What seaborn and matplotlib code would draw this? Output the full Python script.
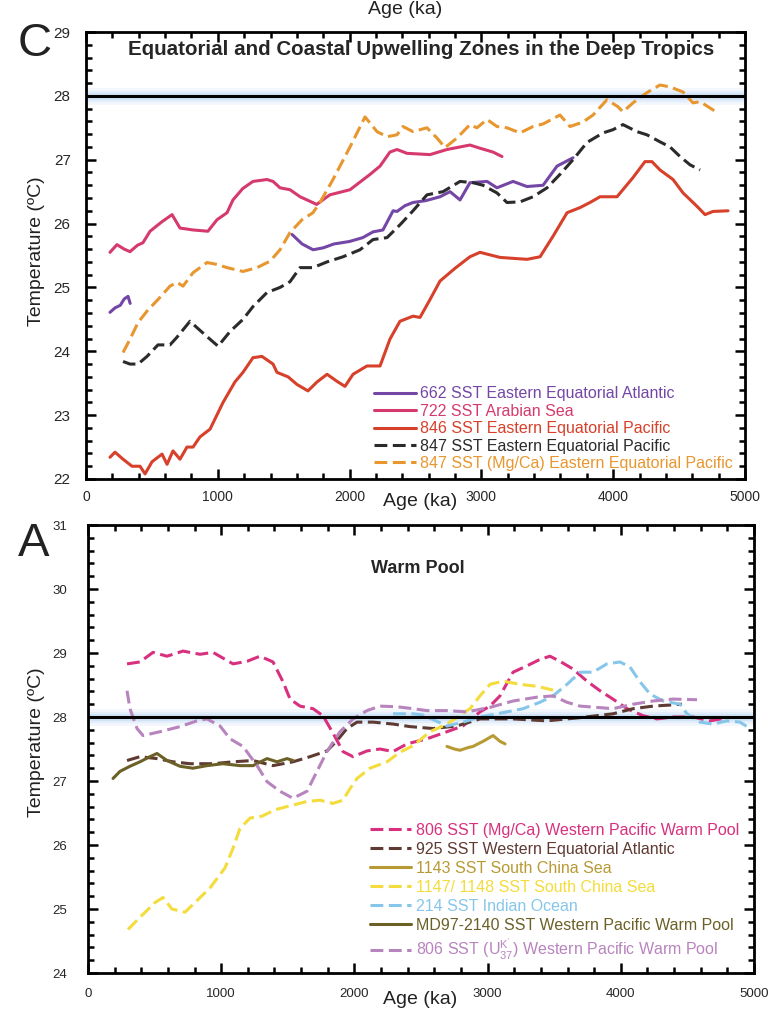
import matplotlib
matplotlib.use('Agg')
import matplotlib.pyplot as plt
from matplotlib.ticker import MultipleLocator
import seaborn as sns
import pandas as pd

# ---- Panel C: equatorial / coastal upwelling zones (age ka, SST degC)
age_662a = [182, 220, 260, 290, 319, 335]
sst_662a = [24.61, 24.68, 24.72, 24.82, 24.86, 24.75]
age_662b = [1563, 1640, 1723, 1800, 1880, 2000, 2100, 2178, 2253, 2330, 2360, 2420, 2481,
            2580, 2686, 2762, 2838, 2913, 3043, 3118, 3240, 3346, 3468, 3574, 3695]
sst_662b = [25.83, 25.68, 25.59, 25.62, 25.68, 25.72, 25.78, 25.87, 25.9, 26.2, 26.19, 26.28, 26.33,
            26.36, 26.42, 26.5, 26.37, 26.64, 26.66, 26.56, 26.66, 26.58, 26.6, 26.9, 27.03]

age_722 = [182, 235, 290, 334, 390, 432, 486, 577, 653, 713, 812, 925, 994, 1070, 1115, 1190,
           1267, 1373, 1419, 1472, 1548, 1624, 1677, 1750, 1850, 2003, 2155, 2231, 2306, 2360,
           2435, 2610, 2739, 2913, 2989, 3088, 3156]
sst_722 = [25.55, 25.67, 25.6, 25.56, 25.66, 25.7, 25.88, 26.03, 26.14, 25.93, 25.9, 25.88, 26.06,
           26.17, 26.37, 26.55, 26.66, 26.69, 26.66, 26.56, 26.53, 26.42, 26.37, 26.3, 26.45,
           26.53, 26.77, 26.9, 27.12, 27.16, 27.1, 27.08, 27.16, 27.23, 27.18, 27.12, 27.05]

age_846 = [182, 220, 281, 349, 410, 448, 501, 577, 615, 660, 713, 766, 812, 865, 941, 1040,
           1130, 1191, 1267, 1335, 1419, 1449, 1533, 1601, 1684, 1753, 1829, 1904, 1965, 2026,
           2132, 2231, 2306, 2382, 2481, 2534, 2610, 2686, 2800, 2913, 2989, 3141, 3346, 3445,
           3543, 3650, 3748, 3824, 3900, 4029, 4150, 4241, 4294, 4355, 4454, 4530, 4636, 4697,
           4757, 4871]
sst_846 = [22.34, 22.42, 22.31, 22.2, 22.2, 22.08, 22.27, 22.39, 22.23, 22.44, 22.31, 22.5, 22.5,
           22.66, 22.78, 23.2, 23.52, 23.67, 23.9, 23.92, 23.8, 23.67, 23.6, 23.48, 23.38, 23.52,
           23.64, 23.53, 23.45, 23.64, 23.77, 23.77, 24.19, 24.47, 24.55, 24.53, 24.81, 25.1,
           25.3, 25.48, 25.55, 25.47, 25.44, 25.48, 25.8, 26.17, 26.25, 26.33, 26.42, 26.42,
           26.72, 26.97, 26.97, 26.84, 26.69, 26.48, 26.27, 26.14, 26.19, 26.2]

age_847 = [281, 334, 395, 463, 546, 637, 690, 789, 842, 918, 1002, 1093, 1191, 1267, 1373, 1472,
           1548, 1624, 1722, 1829, 1950, 2079, 2178, 2284, 2382, 2481, 2587, 2709, 2838, 2936,
           3012, 3118, 3194, 3293, 3392, 3498, 3596, 3695, 3801, 3923, 3998, 4074, 4180, 4256,
           4355, 4431, 4507, 4583, 4659]
sst_847 = [23.84, 23.8, 23.8, 23.92, 24.1, 24.1, 24.22, 24.47, 24.37, 24.23, 24.08, 24.31, 24.5,
           24.7, 24.92, 25.0, 25.09, 25.31, 25.31, 25.4, 25.48, 25.59, 25.75, 25.78, 25.98, 26.2,
           26.45, 26.5, 26.66, 26.64, 26.6, 26.48, 26.33, 26.34, 26.42, 26.56, 26.77, 27.0,
           27.27, 27.42, 27.47, 27.55, 27.44, 27.39, 27.28, 27.2, 27.05, 26.92, 26.84]

age_847mg = [281, 334, 395, 463, 546, 637, 690, 736, 812, 918, 994, 1070, 1191, 1297, 1396,
             1472, 1548, 1639, 1722, 1775, 1874, 2003, 2117, 2208, 2284, 2360, 2405, 2481, 2587,
             2663, 2724, 2815, 2913, 2966, 3043, 3118, 3194, 3293, 3392, 3468, 3596, 3672, 3771,
             3847, 3953, 4036, 4074, 4150, 4256, 4355, 4431, 4530, 4606, 4659, 4735, 4795]
sst_847mg = [23.98, 24.19, 24.45, 24.63, 24.81, 25.02, 25.08, 25.02, 25.23, 25.39, 25.36, 25.31,
             25.25, 25.31, 25.41, 25.59, 25.86, 26.06, 26.17, 26.33, 26.69, 27.2, 27.67, 27.44,
             27.36, 27.39, 27.52, 27.44, 27.5, 27.34, 27.19, 27.34, 27.55, 27.5, 27.63, 27.52,
             27.5, 27.42, 27.52, 27.56, 27.7, 27.52, 27.59, 27.7, 27.94, 27.83, 27.75, 27.89,
             28.05, 28.17, 28.14, 28.06, 27.89, 27.91, 27.81, 27.73]

# ---- Panel A: warm pool
age_806mg = [293, 390, 488, 593, 713, 841, 938, 1089, 1194, 1291, 1389, 1464, 1517, 1592, 1689,
             1764, 1839, 1914, 1990, 2095, 2192, 2290, 2395, 2545, 2695, 2815, 2943, 3018, 3093,
             3191, 3296, 3393, 3468, 3543, 3641, 3746, 3844, 3941, 4047, 4167, 4272, 4392, 4542,
             4670, 4780]
sst_806mg = [28.83, 28.86, 29.01, 28.95, 29.03, 28.98, 29.01, 28.83, 28.87, 28.95, 28.86, 28.55,
             28.28, 28.17, 28.13, 28.02, 27.75, 27.46, 27.38, 27.47, 27.5, 27.46, 27.58, 27.66,
             27.77, 27.86, 28.08, 28.17, 28.33, 28.7, 28.8, 28.9, 28.95, 28.87, 28.75, 28.56,
             28.41, 28.28, 28.13, 28.02, 27.97, 28.0, 28.0, 27.94, 27.98]

age_925 = [293, 390, 518, 638, 766, 938, 1089, 1239, 1389, 1539, 1667, 1794, 1869, 1944, 2020,
           2140, 2290, 2417, 2590, 2770, 2943, 3191, 3446, 3694, 3941, 4092, 4242, 4392, 4459]
sst_925 = [27.32, 27.38, 27.35, 27.3, 27.27, 27.27, 27.3, 27.32, 27.24, 27.3, 27.38, 27.47, 27.63,
           27.82, 27.92, 27.92, 27.89, 27.85, 27.82, 27.86, 27.97, 27.97, 27.94, 27.99, 28.05,
           28.13, 28.17, 28.19, 28.2]

age_1143 = [2695, 2750, 2793, 2850, 2890, 2966, 3041, 3093, 3131]
sst_1143 = [27.54, 27.5, 27.48, 27.52, 27.54, 27.62, 27.71, 27.62, 27.58]

age_1147 = [300, 390, 503, 563, 630, 728, 803, 916, 1028, 1089, 1141, 1216, 1306, 1404, 1494,
            1644, 1742, 1839, 1914, 1967, 2020, 2117, 2245, 2342, 2440, 2567, 2695, 2868, 2943,
            3018, 3116, 3243, 3371, 3491]
sst_1147 = [24.68, 24.87, 25.1, 25.18, 25.0, 24.95, 25.1, 25.33, 25.64, 25.95, 26.26, 26.42,
            26.45, 26.55, 26.6, 26.68, 26.7, 26.65, 26.7, 26.88, 27.04, 27.2, 27.3, 27.45, 27.55,
            27.77, 27.89, 28.13, 28.33, 28.51, 28.56, 28.51, 28.48, 28.42]

age_214 = [2290, 2440, 2515, 2600, 2695, 2815, 2943, 3146, 3266, 3393, 3491, 3596, 3694, 3791,
           3896, 3994, 4069, 4144, 4219, 4317, 4444, 4497, 4595, 4692, 4797, 4895, 4970]
sst_214 = [28.05, 28.05, 28.03, 27.95, 27.86, 27.92, 28.0, 28.08, 28.13, 28.23, 28.33, 28.51,
           28.7, 28.7, 28.83, 28.86, 28.78, 28.55, 28.36, 28.25, 28.2, 28.05, 27.92, 27.89,
           27.94, 27.92, 27.82]

age_md97 = [188, 240, 315, 390, 465, 518, 593, 691, 788, 893, 1013, 1141, 1239, 1344, 1419,
            1494, 1539]
sst_md97 = [27.04, 27.15, 27.23, 27.3, 27.38, 27.43, 27.32, 27.23, 27.2, 27.24, 27.27, 27.24,
            27.24, 27.35, 27.3, 27.35, 27.32]

age_806uk = [293, 315, 368, 413, 540, 691, 818, 893, 991, 1066, 1164, 1269, 1344, 1441, 1539,
             1644, 1719, 1794, 1892, 1990, 2095, 2192, 2320, 2440, 2545, 2695, 2845, 3018, 3191,
             3371, 3491, 3596, 3694, 3821, 3941, 4092, 4242, 4392, 4572]
sst_806uk = [28.41, 28.13, 27.82, 27.71, 27.77, 27.85, 27.94, 27.97, 27.86, 27.66, 27.54, 27.24,
             26.99, 26.84, 26.73, 26.84, 27.15, 27.46, 27.77, 27.97, 28.1, 28.17, 28.16, 28.13,
             28.1, 28.1, 28.08, 28.15, 28.25, 28.31, 28.33, 28.23, 28.17, 28.15, 28.13, 28.2,
             28.25, 28.28, 28.27]

DASH = (0, (4.2, 1.8))
UK37 = r"806 SST (U$\mathregular{^{K'}_{37}}$) Western Pacific Warm Pool"

panel_c = [
    ("662 SST Eastern Equatorial Atlantic", "#7447a6", "-", [(age_662a, sst_662a), (age_662b, sst_662b)]),
    ("722 SST Arabian Sea", "#d63a6c", "-", [(age_722, sst_722)]),
    ("846 SST Eastern Equatorial Pacific", "#d7402a", "-", [(age_846, sst_846)]),
    ("847 SST Eastern Equatorial Pacific", "#2b2b2b", DASH, [(age_847, sst_847)]),
    ("847 SST (Mg/Ca) Eastern Equatorial Pacific", "#e8962e", DASH, [(age_847mg, sst_847mg)]),
]
panel_a = [
    ("806 SST (Mg/Ca) Western Pacific Warm Pool", "#d8307f", DASH, [(age_806mg, sst_806mg)]),
    ("925 SST Western Equatorial Atlantic", "#5e3a32", DASH, [(age_925, sst_925)]),
    ("1143 SST South China Sea", "#b89a34", "-", [(age_1143, sst_1143)]),
    ("1147/ 1148 SST South China Sea", "#f3dc3c", DASH, [(age_1147, sst_1147)]),
    ("214 SST Indian Ocean", "#86c6ea", DASH, [(age_214, sst_214)]),
    ("MD97-2140 SST Western Pacific Warm Pool", "#6b6026", "-", [(age_md97, sst_md97)]),
    (UK37, "#b884be", DASH, [(age_806uk, sst_806uk)]),
]

sns.set_theme(style="ticks")
plt.rcParams['font.family'] = ['Liberation Sans', 'DejaVu Sans']

fig = plt.figure(figsize=(7.78, 10.10), dpi=100)
ax_c = fig.add_axes([86 / 778, 1 - 479 / 1010, 659 / 778, 447 / 1010])
ax_a = fig.add_axes([88 / 778, 1 - 973 / 1010, 666 / 778, 448 / 1010])


def draw_panel(ax, series, lw):
    for label, color, ls, segs in series:
        for i, (x, y) in enumerate(segs):
            df = pd.DataFrame({"age": x, "sst": y})
            sns.lineplot(data=df, x="age", y="sst", ax=ax, color=color, linestyle=ls,
                         linewidth=lw, estimator=None, sort=False,
                         label=label if i == 0 else "_nolegend_")
    # 28 degC reference line with a soft glow
    for w, a in [(12, 0.15), (8, 0.2), (5, 0.3)]:
        ax.axhline(28, color="#a9cdf2", lw=w, alpha=a, zorder=1, solid_capstyle="butt")
    ax.axhline(28, color="black", lw=2.2, zorder=5)
    ax.set_xlim(0, 5000)
    ax.xaxis.set_major_locator(MultipleLocator(1000))
    ax.xaxis.set_minor_locator(MultipleLocator(200))
    ax.yaxis.set_major_locator(MultipleLocator(1))
    ax.yaxis.set_minor_locator(MultipleLocator(0.2))
    ax.tick_params(which="both", direction="in", top=True, right=True, width=1.8, color="black")
    ax.tick_params(which="major", length=7)
    ax.tick_params(which="minor", length=4.5)
    for s in ax.spines.values():
        s.set_linewidth(2.0)
        s.set_color("black")
    ax.set_xlabel("")
    ax.set_ylabel("Temperature (ºC)", fontsize=14, color="#222222")


# ---- panel C
draw_panel(ax_c, panel_c, 2.2)
ax_c.set_ylim(22, 29)
ax_c.tick_params(axis="y", labelsize=11, pad=11)
ax_c.tick_params(axis="x", labelsize=10, pad=8)
ax_c.yaxis.set_label_coords(-0.062, 0.51)
ax_c.text(0.508, 0.96, "Equatorial and Coastal Upwelling Zones in the Deep Tropics",
          transform=ax_c.transAxes, ha="center", va="center", fontsize=14.8, fontweight="bold")
ax_c.text(0.507, -0.051, "Age (ka)", transform=ax_c.transAxes, ha="center", va="center",
          fontsize=14, color="#222222")
ax_c.legend(loc="lower right", bbox_to_anchor=(0.982, 0.018), frameon=False, fontsize=11.5,
            labelcolor="linecolor", handlelength=2.6, handletextpad=0.3, labelspacing=0.15,
            borderaxespad=0, borderpad=0)

# ---- panel A
draw_panel(ax_a, panel_a, 2.2)
ax_a.set_ylim(24, 31)
ax_a.tick_params(axis="y", labelsize=9.5, pad=15)
ax_a.tick_params(axis="x", labelsize=9.5, pad=11)
ax_a.yaxis.set_label_coords(-0.064, 0.516)
ax_a.text(0.495, 0.904, "Warm Pool", transform=ax_a.transAxes, ha="center", va="center",
          fontsize=13, fontweight="bold")
ax_a.text(0.498, -0.06, "Age (ka)", transform=ax_a.transAxes, ha="center", va="center",
          fontsize=14, color="#222222")
ax_a.legend(loc="lower right", bbox_to_anchor=(0.978, 0.025), frameon=False, fontsize=11.5,
            labelcolor="linecolor", handlelength=2.6, handletextpad=0.3, labelspacing=0.25,
            borderaxespad=0, borderpad=0)

# panel letters and the axis label left over from the panel above
fig.text(35 / 778, 1 - 44 / 1010, "C", fontsize=34, ha="center", va="center", color="#222222")
fig.text(34 / 778, 1 - 544 / 1010, "A", fontsize=34, ha="center", va="center", color="#222222")
fig.text(405 / 778, 1 - 10 / 1010, "Age (ka)", fontsize=14, ha="center", va="center", color="#222222")

fig.savefig("out.png", dpi=100)
